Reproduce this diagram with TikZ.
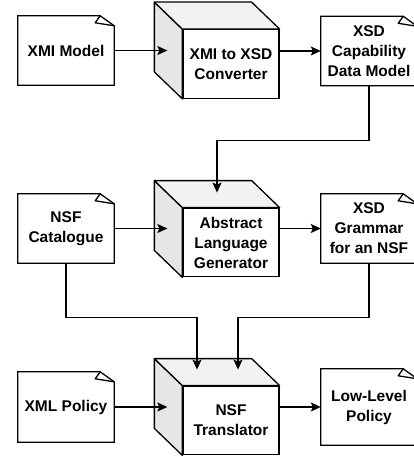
\documentclass[tikz,border=0pt]{standalone}
\usepackage{fontspec}
\setmainfont{Liberation Sans}
\usetikzlibrary{arrows.meta,calc}
\definecolor{sidegray}{HTML}{E6E6E6}
\definecolor{topgray}{HTML}{F2F2F2}
\tikzset{
  ln/.style={line width=1.3pt, draw=black},
  arr/.style={ln, -{Stealth[length=10pt,width=9pt,inset=2pt]}},
  txt/.style={font=\fontsize{15.5}{20}\selectfont\bfseries, align=center, inner sep=0pt},
  notebox/.style={txt, minimum width=96pt, minimum height=69pt},
  cubefront/.style={txt, ln, fill=white, minimum width=96pt, minimum height=68.5pt},
}
\newcommand{\drawnote}[1]{%
  \draw[ln, fill=white] (#1.south west) -- (#1.north west) -- ([xshift=-14pt]#1.north east)
     -- ([yshift=-10pt]#1.north east) -- (#1.south east) -- cycle;
  \draw[ln, line join=round] ([xshift=-14pt]#1.north east) -- ([xshift=-19pt,yshift=-7pt]#1.north east)
     -- ([yshift=-10pt]#1.north east);
  \node[txt] at (#1.center) {\csname notetext#1\endcsname};}
\newcommand{\drawcube}[1]{%
  \draw[ln, fill=sidegray, line join=round] (#1.north west) -- ([xshift=-28pt,yshift=27pt]#1.north west)
     -- ([xshift=-28pt,yshift=27pt]#1.south west) -- (#1.south west) -- cycle;
  \draw[ln, fill=topgray, line join=round] (#1.north west) -- ([xshift=-28pt,yshift=27pt]#1.north west)
     -- ([xshift=-28pt,yshift=27pt]#1.north east) -- (#1.north east) -- cycle;}
\begin{document}
\begin{tikzpicture}[x=1pt,y=-1pt]
\useasboundingbox (0,0) rectangle (413,457);
% notes (text placed by \drawnote)
\def\notetextxmi{XMI Model}
\def\notetextcat{NSF\\Catalogue}
\def\notetextpol{XML Policy}
\def\notetextxsd{XSD\\Capability\\Data Model}
\def\notetextgram{XSD\\Grammar\\for an NSF}
\def\notetextlow{Low-Level\\Policy}
\node[notebox] (xmi) at (66,50.5) {};
\node[notebox] (cat) at (66,228.5) {};
\node[notebox, minimum height=70pt] (pol) at (66,407) {};
\node[notebox] (xsd) at (369,51) {};
\node[notebox] (gram) at (369,228.5) {};
\node[notebox, minimum height=76pt] (low) at (369,407) {};
\drawnote{xmi}\drawnote{cat}\drawnote{pol}\drawnote{xsd}\drawnote{gram}\drawnote{low}
% cubes
\node[cubefront] (c1) at (231,64) {XMI to XSD\\Converter};
\node[cubefront] (c2) at (231,242.5) {Abstract\\Language\\Generator};
\node[cubefront] (c3) at (231,420.5) {NSF\\Translator};
\drawcube{c1}\drawcube{c2}\drawcube{c3}
% connectors
\draw[arr] (xmi.east) -- ([xshift=-15pt]c1.west |- xmi.east);
\draw[arr] (c1.east |- xsd.west) -- (xsd.west);
\draw[arr] (cat.east) -- ([xshift=-15pt]c2.west |- cat.east);
\draw[arr] (c2.east |- gram.west) -- (gram.west);
\draw[arr] (pol.east) -- ([xshift=-15pt]c3.west |- pol.east);
\draw[arr] (c3.east |- low.west) -- (low.west);
\coordinate (t2) at ([xshift=-14pt,yshift=15pt]c2.north);
\draw[arr] (xsd.south) -- ++(0,55) -| (t2);
\coordinate (t3a) at ([xshift=-34pt,yshift=16pt]c3.north);
\coordinate (t3b) at ([xshift=7pt,yshift=16pt]c3.north);
\draw[arr] (cat.south) -- ++(0,54) -| (t3a);
\draw[arr] (gram.south) -- ++(0,54) -| (t3b);
\end{tikzpicture}
\end{document}
